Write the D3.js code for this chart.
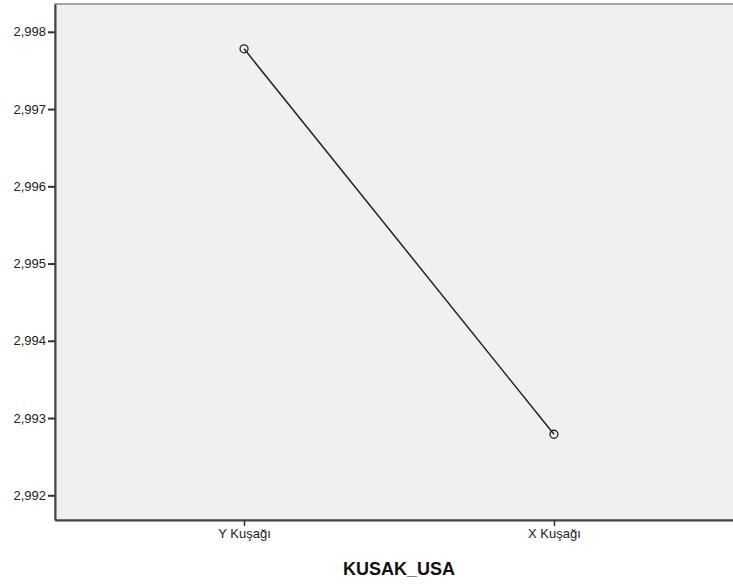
<!DOCTYPE html>
<html><head><meta charset="utf-8">
<script src="https://cdn.jsdelivr.net/npm/d3@7"></script>
<style>body{margin:0;background:#fff}svg{display:block}</style>
</head><body><svg id="c" width="733" height="585"></svg>
<script>
const categories = ["Y Kuşağı", "X Kuşağı"];
const values = [2.99778, 2.99279];
const yTicks = [2.992, 2.993, 2.994, 2.995, 2.996, 2.997, 2.998];
const xTitle = "KUSAK_USA";

const svg = d3.select("#c");
const L = 55, T = 4, R = 743, B = 520;
const FONT = "Liberation Sans, Arial, sans-serif";
const x = d3.scalePoint().domain(categories).range([L, R]).padding(0.61);
const y = d3.scaleLinear().domain([2.99168, 2.99836]).range([B, T]);
const fmt = v => d3.format(".3f")(v).replace(".", ",");

svg.append("rect").attr("x", L).attr("y", T).attr("width", R - L).attr("height", B - T)
  .attr("fill", "#f0f0f0").attr("stroke", "#888").attr("stroke-width", 1.5);

const ya = svg.append("g").attr("transform", `translate(${L},0)`)
  .call(d3.axisLeft(y).tickValues(yTicks).tickFormat(fmt).tickSize(7).tickSizeOuter(0).tickPadding(2));
ya.select(".domain").attr("stroke", "#444").attr("stroke-width", 2);
ya.selectAll(".tick line").attr("stroke", "#333").attr("stroke-width", 2);
ya.selectAll("text").style("font-family", FONT).style("font-size", "13px").attr("fill", "#222");

const xa = svg.append("g").attr("transform", `translate(0,${B})`)
  .call(d3.axisBottom(x).tickSize(6).tickSizeOuter(0).tickPadding(3));
xa.select(".domain").attr("stroke", "#444").attr("stroke-width", 2);
xa.selectAll(".tick line").attr("stroke", "#333").attr("stroke-width", 1.5);
xa.selectAll("text").style("font-family", FONT).style("font-size", "13px").attr("fill", "#222");

svg.append("text").attr("x", (L + R) / 2).attr("y", 575).attr("text-anchor", "middle")
  .style("font-family", FONT).style("font-size", "18px").attr("font-weight", "bold")
  .attr("fill", "#111").text(xTitle);

const data = categories.map((c, i) => ({c, v: values[i]}));
svg.append("path").datum(data)
  .attr("d", d3.line().x(d => x(d.c)).y(d => y(d.v)))
  .attr("fill", "none").attr("stroke", "#222").attr("stroke-width", 1.5);
svg.selectAll("circle.pt").data(data).join("circle").attr("class", "pt")
  .attr("cx", d => x(d.c)).attr("cy", d => y(d.v)).attr("r", 4)
  .attr("fill", "none").attr("stroke", "#222").attr("stroke-width", 1.3);
</script></body></html>
